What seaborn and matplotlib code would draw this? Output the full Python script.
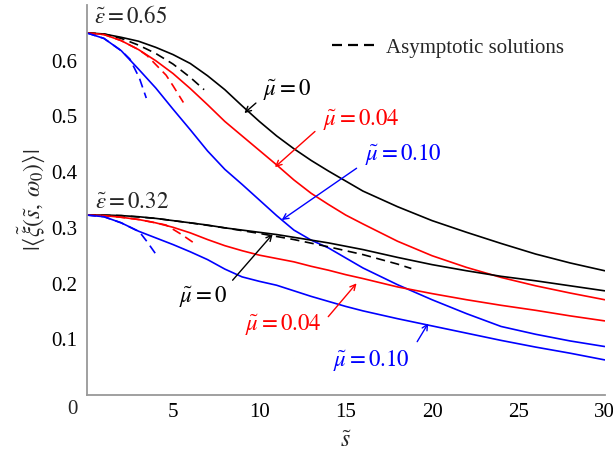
import matplotlib
matplotlib.use("Agg")
import matplotlib.pyplot as plt
from matplotlib.lines import Line2D
import numpy as np
import pandas as pd
import seaborn as sns

# ---- numerical solutions, eps = 0.65 ----
s_grid = [0, 1, 2, 3, 4, 5, 6, 7, 8, 9, 10, 11, 12, 13, 14, 15, 16, 18, 20, 22, 24, 26, 28, 30]
hi_mu000 = [0.650, 0.648, 0.642, 0.635, 0.624, 0.611, 0.595, 0.573, 0.548, 0.519, 0.491, 0.465,
            0.442, 0.421, 0.402, 0.384, 0.366, 0.338, 0.313, 0.292, 0.272, 0.253, 0.237, 0.223]
hi_mu004 = [0.650, 0.647, 0.636, 0.620, 0.600, 0.577, 0.550, 0.521, 0.491, 0.465, 0.439, 0.413,
            0.386, 0.362, 0.342, 0.323, 0.307, 0.276, 0.250, 0.229, 0.211, 0.196, 0.183, 0.171]
hi_mu010 = [0.650, 0.640, 0.618, 0.585, 0.551, 0.513, 0.476, 0.438, 0.405, 0.378, 0.350, 0.322,
            0.296, 0.278, 0.264, 0.246, 0.228, 0.198, 0.171, 0.146, 0.123, 0.109, 0.097, 0.087]

# ---- numerical solutions, eps = 0.32 ----
lo_mu000 = [0.323, 0.323, 0.322, 0.320, 0.317, 0.313, 0.309, 0.305, 0.300, 0.296, 0.292, 0.288,
            0.283, 0.278, 0.273, 0.267, 0.261, 0.247, 0.234, 0.223, 0.213, 0.205, 0.196, 0.187]
lo_mu004 = [0.323, 0.322, 0.319, 0.315, 0.309, 0.301, 0.291, 0.279, 0.268, 0.259, 0.251, 0.245,
            0.239, 0.231, 0.224, 0.216, 0.209, 0.194, 0.182, 0.171, 0.161, 0.152, 0.142, 0.133]
lo_mu010 = [0.323, 0.320, 0.309, 0.294, 0.282, 0.270, 0.257, 0.243, 0.226, 0.212, 0.204, 0.197,
            0.187, 0.177, 0.168, 0.159, 0.151, 0.137, 0.124, 0.111, 0.098, 0.086, 0.075, 0.063]

# ---- small-s asymptotic solutions ----
hi_asym000_s = [0, 1, 2, 3, 4, 5, 6, 6.8]
hi_asym000 = [0.650, 0.648, 0.640, 0.628, 0.613, 0.594, 0.570, 0.548]
hi_asym004_s = [0, 1, 2, 3, 3.5, 4.6, 5.0, 5.6]
hi_asym004 = [0.650, 0.647, 0.636, 0.620, 0.609, 0.574, 0.555, 0.525]
hi_asym010_s = [0, 1, 2, 2.5, 3.05, 3.45]
hi_asym010 = [0.650, 0.640, 0.618, 0.603, 0.569, 0.533]

lo_asym000_s = [0, 2, 4, 6, 8, 10, 12, 14, 16, 18, 18.8]
lo_asym000 = [0.323, 0.322, 0.317, 0.309, 0.300, 0.290, 0.279, 0.266, 0.252, 0.235, 0.227]
lo_asym004_s = [0, 1, 2, 3, 4, 4.6, 5.5, 6.3]
lo_asym004 = [0.323, 0.322, 0.319, 0.315, 0.309, 0.305, 0.288, 0.271]
lo_asym010_s = [0, 1, 2, 3.05, 3.5, 4.0]
lo_asym010 = [0.323, 0.320, 0.309, 0.293, 0.275, 0.253]

BLACK, RED, BLUE = "#000000", "#ff0000", "#0000ff"

sns.set_theme(style="white")
plt.rcParams["font.family"] = ["Liberation Serif", "DejaVu Serif"]
plt.rcParams["mathtext.fontset"] = "stix"
plt.rcParams["font.size"] = 15

fig = plt.figure(figsize=(6.13, 4.55), dpi=100)
ax = fig.add_axes([86.7 / 613, 60 / 455, 518 / 613, 390 / 455])

LW = 1.2
DASH = (0, (5.5, 3.3))
MATH_FS = 16.5

solid = [
    (s_grid, hi_mu000, BLACK), (s_grid, hi_mu004, RED), (s_grid, hi_mu010, BLUE),
    (s_grid, lo_mu000, BLACK), (s_grid, lo_mu004, RED), (s_grid, lo_mu010, BLUE),
]
dashed = [
    (hi_asym000_s, hi_asym000, BLACK), (hi_asym004_s, hi_asym004, RED), (hi_asym010_s, hi_asym010, BLUE),
    (lo_asym000_s, lo_asym000, BLACK), (lo_asym004_s, lo_asym004, RED), (lo_asym010_s, lo_asym010, BLUE),
]

for xs, ys, c in solid:
    df = pd.DataFrame({"s": xs, "amp": ys})
    sns.lineplot(data=df, x="s", y="amp", color=c, lw=LW, ax=ax, legend=False)
for xs, ys, c in dashed:
    df = pd.DataFrame({"s": xs, "amp": ys})
    sns.lineplot(data=df, x="s", y="amp", color=c, lw=LW, linestyle=DASH, ax=ax, legend=False)

ax.set_xlim(0, 30)
ax.set_ylim(0, 0.7)
ax.set_xticks([5, 10, 15, 20, 25, 30])
ax.set_yticks([0.1, 0.2, 0.3, 0.4, 0.5, 0.6])
ax.set_yticklabels(["0.1", "0.2", "0.3", "0.4", "0.5", "0.6"])
ax.tick_params(direction="in", length=4, width=1.0, color="#999999",
               labelsize=15, labelcolor="black")
ax.tick_params(axis="x", pad=6)
ax.tick_params(axis="y", pad=7)
for side in ("top", "right"):
    ax.spines[side].set_visible(False)
for side in ("left", "bottom"):
    ax.spines[side].set_color("#999999")
    ax.spines[side].set_linewidth(1.3)

# shared origin label
ax.annotate("0", xy=(0, 0), xycoords="data", xytext=(-14, -15), textcoords="offset pixels",
            ha="center", va="center", fontsize=15)

ax.set_xlabel(r"$\tilde{s}$", fontsize=17, labelpad=6)
ax.set_ylabel(r"$|\langle\tilde{\xi}(\tilde{s},\,\omega_0)\rangle|$", fontsize=17, labelpad=3)

# group labels
ax.text(0.45, 0.679, r"$\tilde{\varepsilon}=0.65$", ha="left", va="center", fontsize=MATH_FS)
ax.text(0.5, 0.345, r"$\tilde{\varepsilon}=0.32$", ha="left", va="center", fontsize=MATH_FS)

# curve labels with pointers: (text, text pos, arrow start, arrow tip, colour)
labels = [
    (r"$\tilde{\mu}=0$", (10.2, 0.548), (9.80, 0.524), (9.13, 0.506), BLACK),
    (r"$\tilde{\mu}=0.04$", (13.7, 0.495), (13.22, 0.473), (10.9, 0.409), RED),
    (r"$\tilde{\mu}=0.10$", (16.1, 0.431), (15.63, 0.407), (11.29, 0.314), BLUE),
    (r"$\tilde{\mu}=0$", (5.36, 0.1765), (8.45, 0.206), (10.77, 0.2885), BLACK),
    (r"$\tilde{\mu}=0.04$", (9.17, 0.1257), (13.99, 0.1406), (15.63, 0.2005), RED),
    (r"$\tilde{\mu}=0.10$", (14.28, 0.0628), (19.14, 0.0957), (19.78, 0.1287), BLUE),
]
for txt, pos, start, tip, c in labels:
    ax.text(pos[0], pos[1], txt, color=c, ha="left", va="center", fontsize=MATH_FS)
    ax.annotate("", xy=tip, xytext=start,
                arrowprops=dict(arrowstyle="->", color=c, lw=1.0,
                                shrinkA=0, shrinkB=0, mutation_scale=10))

handle = Line2D([], [], color=BLACK, lw=1.6, linestyle=(0, (4.5, 2.7)))
ax.legend([handle], ["Asymptotic solutions"], loc="center left",
          bbox_to_anchor=(0.4575, 0.89), borderaxespad=0, frameon=False,
          handlelength=2.07, handletextpad=0.5, fontsize=15)

fig.savefig("out.png", dpi=100)
